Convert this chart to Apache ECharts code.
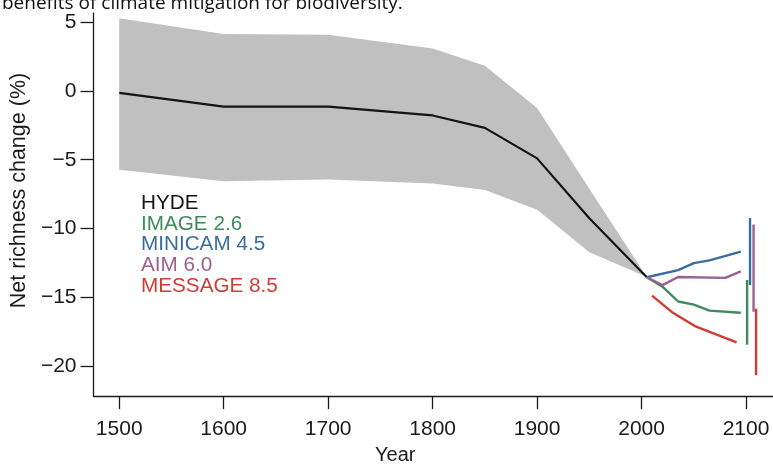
<!DOCTYPE html>
<html>
<head>
<meta charset="utf-8">
<script src="https://cdn.jsdelivr.net/npm/echarts@6/dist/echarts.min.js"></script>
<style>
html,body{margin:0;padding:0;background:#fff;}
#chart{width:773px;height:470px;}
</style>
</head>
<body>
<div id="chart"></div>
<script>
// ---- data ----
var bandYears = [1500, 1600, 1700, 1800, 1850, 1900, 1950, 2005];
var bandUpper = [5.26, 4.12, 4.07, 3.06, 1.82, -1.25, -7.1, -13.5];
var bandLower = [-5.73, -6.56, -6.44, -6.73, -7.2, -8.63, -11.7, -13.5];

var hydeYears = [1500, 1600, 1700, 1800, 1850, 1900, 1950, 2005];
var hydeValues = [-0.15, -1.15, -1.15, -1.79, -2.69, -4.9, -9.25, -13.52];

var imageYears = [2005, 2020, 2035, 2050, 2065, 2095];
var imageValues = [-13.52, -14.2, -15.28, -15.51, -15.94, -16.1];

var minicamYears = [2005, 2035, 2050, 2065, 2095];
var minicamValues = [-13.52, -13.0, -12.5, -12.3, -11.67];

var aimYears = [2005, 2020, 2035, 2080, 2095];
var aimValues = [-13.52, -14.09, -13.5, -13.57, -13.09];

var messageYears = [2010, 2030, 2051, 2091];
var messageValues = [-14.85, -16.1, -17.06, -18.24];

// 2100 ranges: [year, low, high]
var rangeImage = [2101, -18.41, -13.73];
var rangeMinicam = [2103.8, -14.09, -9.22];
var rangeAim = [2107.2, -16.03, -9.69];
var rangeMessage = [2109.6, -20.62, -15.8];

var xTicks = [1500, 1600, 1700, 1800, 1900, 2000, 2100];
var yTicks = [-20, -15, -10, -5, 0, 5];

var legendNames = ['HYDE', 'IMAGE 2.6', 'MINICAM 4.5', 'AIM 6.0', 'MESSAGE 8.5'];
var colors = {
  hyde: '#141414',
  image: '#3f8a5c',
  minicam: '#3a6d9f',
  aim: '#9d5f8b',
  message: '#d03b33',
  band: '#c0c0c0'
};

function pairs(xs, ys) { return xs.map(function (x, i) { return [x, ys[i]]; }); }
function rangePairs(r) { return [[r[0], r[1]], [r[0], r[2]]]; }

var chart = echarts.init(document.getElementById('chart'));
var labelFont = 'Liberation Sans, Arial, Helvetica, sans-serif';
var legendColors = [colors.hyde, colors.image, colors.minicam, colors.aim, colors.message];

var graphics = [{
  type: 'text',
  left: 2,
  top: -6,
  style: {
    text: 'benefits of climate mitigation for biodiversity.',
    font: '19px "Open Sans", sans-serif',
    fill: '#111'
  },
  silent: true
}];
legendNames.forEach(function (n, i) {
  graphics.push({
    type: 'text',
    left: 141,
    top: 193 + i * 20.6,
    style: { text: n, font: '20.7px ' + labelFont, fill: legendColors[i] },
    silent: true
  });
});

function lineSeries(name, data, color, width) {
  return {
    name: name, type: 'line', data: data, symbol: 'none', silent: true,
    lineStyle: { color: color, width: width || 2.4 }, z: 3, animation: false
  };
}

var option = {
  animation: false,
  grid: { left: 93, right: 0, top: 13, bottom: 67, containLabel: false },
  xAxis: {
    type: 'value', min: 1475.4, max: 2125.8,
    name: 'Year', nameLocation: 'middle', nameGap: 45,
    nameTextStyle: { fontFamily: labelFont, fontSize: 20, color: '#1a1a1a', padding: [0, 76, 0, 0] },
    axisLine: { show: true, onZero: false, lineStyle: { color: '#1a1a1a', width: 1.3 } },
    axisTick: { show: true, length: 13, customValues: xTicks, lineStyle: { color: '#1a1a1a', width: 1.3 } },
    axisLabel: {
      customValues: xTicks, margin: 23, fontFamily: labelFont, fontSize: 21, color: '#1a1a1a',
      formatter: function (v) { return String(v); }
    },
    splitLine: { show: false }
  },
  yAxis: {
    type: 'value', min: -22.14, max: 5.64,
    name: 'Net richness change (%)', nameLocation: 'middle', nameGap: 60,
    nameTextStyle: { fontFamily: labelFont, fontSize: 21.5, color: '#1a1a1a', padding: [0, 0, 0, 28] },
    axisLine: { show: true, onZero: false, lineStyle: { color: '#1a1a1a', width: 1.3 } },
    axisTick: { show: true, length: 13, customValues: yTicks, lineStyle: { color: '#1a1a1a', width: 1.3 } },
    axisLabel: {
      customValues: yTicks, margin: 17, fontFamily: labelFont, fontSize: 21, color: '#1a1a1a',
      formatter: function (v) { return String(v).replace('-', '\u2212'); }
    },
    splitLine: { show: false }
  },
  graphic: graphics,
  series: [
    {
      name: 'HYDE range', type: 'custom', silent: true, z: 1,
      data: bandYears.map(function (y, i) { return [y, bandLower[i], bandUpper[i]]; }),
      encode: { x: 0, y: [1, 2] },
      renderItem: function (params, api) {
        if (params.dataIndexInside !== 0) { return null; }
        var pts = [];
        for (var i = 0; i < bandYears.length; i++) { pts.push(api.coord([bandYears[i], bandUpper[i]])); }
        for (var j = bandYears.length - 1; j >= 0; j--) { pts.push(api.coord([bandYears[j], bandLower[j]])); }
        return { type: 'polygon', shape: { points: pts }, style: { fill: colors.band } };
      }
    },
    lineSeries('HYDE', pairs(hydeYears, hydeValues), colors.hyde, 2.2),
    lineSeries('IMAGE 2.6', pairs(imageYears, imageValues), colors.image),
    lineSeries('MINICAM 4.5', pairs(minicamYears, minicamValues), colors.minicam),
    lineSeries('AIM 6.0', pairs(aimYears, aimValues), colors.aim),
    lineSeries('MESSAGE 8.5', pairs(messageYears, messageValues), colors.message),
    lineSeries('IMAGE 2.6 range', rangePairs(rangeImage), colors.image),
    lineSeries('MINICAM 4.5 range', rangePairs(rangeMinicam), colors.minicam),
    lineSeries('AIM 6.0 range', rangePairs(rangeAim), colors.aim),
    lineSeries('MESSAGE 8.5 range', rangePairs(rangeMessage), colors.message)
  ]
};
chart.setOption(option);
</script>
</body>
</html>
